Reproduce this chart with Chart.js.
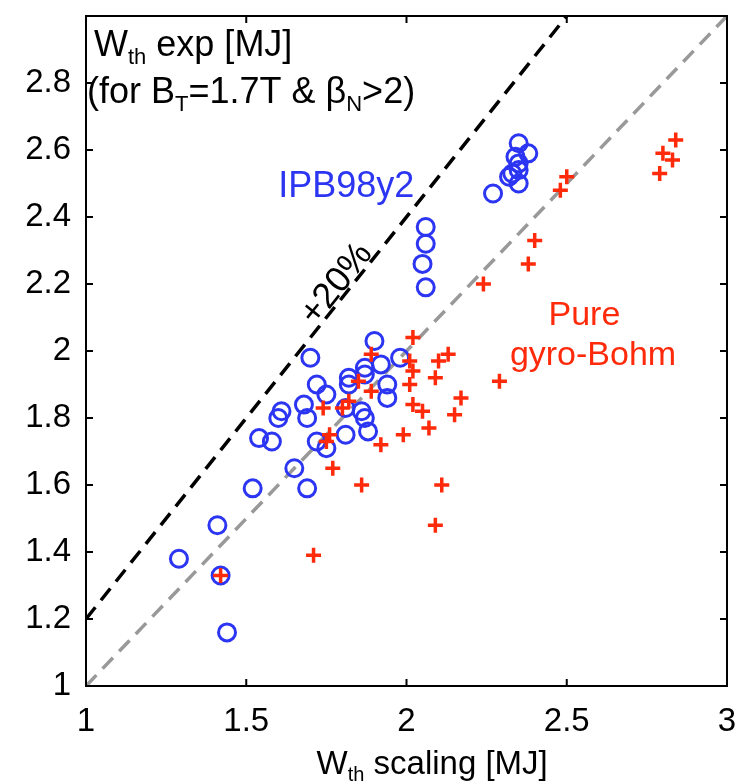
<!DOCTYPE html>
<html>
<head>
<meta charset="utf-8">
<script src="https://cdn.jsdelivr.net/npm/chart.js@4.4.1/dist/chart.umd.min.js"></script>
<style>
  body { margin: 0; background: #fff; }
  #wrap { width: 741px; height: 783px; }
</style>
</head>
<body>
<div id="wrap"><canvas id="myChart"></canvas></div>
<script>
// IPB98y2 scaling vs experiment (blue circles)
const ipbX = [1.29, 1.41, 1.42, 1.44, 1.52, 1.69, 1.65, 1.54, 1.58, 1.60, 1.61, 1.68, 1.69, 1.70, 1.72,
  1.75, 1.72, 1.75, 1.81, 1.88, 1.81, 1.86, 1.87, 1.82, 1.82, 1.87, 1.87, 1.90, 1.92, 1.94, 1.94,
  1.98, 2.06, 2.06, 2.05, 2.06, 2.27, 2.32, 2.33, 2.35, 2.35, 2.34, 2.38, 2.35, 2.35];
const ipbY = [1.38, 1.48, 1.33, 1.16, 1.59, 1.59, 1.65, 1.74, 1.73, 1.80, 1.82, 1.84, 1.80, 1.98, 1.90,
  1.87, 1.73, 1.71, 1.75, 1.76, 1.83, 1.82, 1.80, 1.90, 1.92, 1.93, 1.95, 2.03, 1.96, 1.90, 1.86,
  1.98, 2.37, 2.32, 2.26, 2.19, 2.47, 2.52, 2.53, 2.54, 2.56, 2.58, 2.59, 2.62, 2.50];

// pure gyro-Bohm scaling vs experiment (red crosses)
const gbX = [1.42, 1.71, 1.74, 1.80, 1.82, 1.76, 1.75, 1.77, 1.86, 1.85, 1.89, 1.89, 1.92, 1.99, 2.02,
  2.01, 2.02, 2.01, 2.02, 2.05, 2.07, 2.09, 2.10, 2.13, 2.11, 2.09, 2.17, 2.15, 2.29, 2.24, 2.38,
  2.40, 2.48, 2.50, 2.79, 2.80, 2.83, 2.84];
const gbY = [1.33, 1.39, 1.83, 1.83, 1.85, 1.75, 1.73, 1.65, 1.60, 1.91, 1.88, 1.99, 1.72, 1.75, 2.04,
  1.97, 1.94, 1.90, 1.84, 1.82, 1.77, 1.92, 1.97, 1.99, 1.60, 1.48, 1.86, 1.81, 1.91, 2.20, 2.26,
  2.33, 2.48, 2.52, 2.53, 2.59, 2.57, 2.63];

// reference lines
const unityX = [1, 3];
const unityY = [1, 3];
const plus20X = [1, 2.5];
const plus20Y = [1.2, 3];

const xTicks = [1, 1.5, 2, 2.5, 3];
const yTicks = [1, 1.2, 1.4, 1.6, 1.8, 2, 2.2, 2.4, 2.6, 2.8];

const BLUE = "#2b35f2";
const RED = "#ff2a0a";
const FONT = "Liberation Sans, Arial, sans-serif";
const FS = 33;
const FS_NOTE = 36;

const toPts = (xs, ys) => xs.map((x, i) => ({ x: x, y: ys[i] }));

// text with subscripts: parts = [[text, isSub], ...]
function richWidth(c, parts, size) {
  let w = 0;
  parts.forEach(([t, sub]) => {
    c.font = (sub ? Math.round(size * 0.62) : size) + "px " + FONT;
    w += c.measureText(t).width;
  });
  return w;
}
function drawRich(c, parts, x, y, size, align) {
  let w = richWidth(c, parts, size);
  let cx = align === "center" ? x - w / 2 : x;
  c.textAlign = "left";
  c.textBaseline = "alphabetic";
  parts.forEach(([t, sub]) => {
    c.font = (sub ? Math.round(size * 0.62) : size) + "px " + FONT;
    c.fillText(t, cx, sub ? y + size * 0.22 : y);
    cx += c.measureText(t).width;
  });
}

const framePlugin = {
  id: "frame",
  afterDraw(chart) {
    const c = chart.ctx;
    const a = chart.chartArea;
    const xs = chart.scales.x;
    const ys = chart.scales.y;
    c.save();
    c.strokeStyle = "#000";
    c.lineWidth = 2;
    c.strokeRect(a.left, a.top, a.right - a.left, a.bottom - a.top);
    const tl = 7;
    c.beginPath();
    xTicks.forEach((v) => {
      const px = xs.getPixelForValue(v);
      c.moveTo(px, a.bottom); c.lineTo(px, a.bottom - tl);
      c.moveTo(px, a.top); c.lineTo(px, a.top + tl);
    });
    yTicks.forEach((v) => {
      const py = ys.getPixelForValue(v);
      c.moveTo(a.left, py); c.lineTo(a.left + tl, py);
      c.moveTo(a.right, py); c.lineTo(a.right - tl, py);
    });
    c.stroke();

    // annotations
    c.fillStyle = "#000";
    drawRich(c, [["W", 0], ["th", 1], [" exp [MJ]", 0]], a.left + 8, a.top + 40, FS_NOTE, "left");
    drawRich(c, [["(for B", 0], ["T", 1], ["=1.7T & \u03b2", 0], ["N", 1], [">2)", 0]], a.left + 1, a.top + 87, FS_NOTE, "left");

    c.fillStyle = BLUE;
    drawRich(c, [["IPB98y2", 0]], xs.getPixelForValue(1.6), ys.getPixelForValue(2.5) + 13, FS_NOTE, "left");

    c.fillStyle = RED;
    drawRich(c, [["Pure", 0]], xs.getPixelForValue(2.555), ys.getPixelForValue(2.113) + 12, 34, "center");
    drawRich(c, [["gyro-Bohm", 0]], xs.getPixelForValue(2.582), ys.getPixelForValue(1.994) + 12, 34, "center");

    // +20% along the dashed line
    const x0 = xs.getPixelForValue(plus20X[0]), y0 = ys.getPixelForValue(plus20Y[0]);
    const x1 = xs.getPixelForValue(plus20X[1]), y1 = ys.getPixelForValue(plus20Y[1]);
    const ang = Math.atan2(y1 - y0, x1 - x0);
    c.save();
    c.translate(xs.getPixelForValue(1.775), ys.getPixelForValue(2.205));
    c.rotate(ang);
    c.fillStyle = "#000";
    drawRich(c, [["+20%", 0]], 0, 13, FS_NOTE, "center");
    c.restore();

    // x axis title
    c.fillStyle = "#000";
    drawRich(c, [["W", 0], ["th", 1], [" scaling [MJ]", 0]], xs.getPixelForValue(2.08), a.bottom + 88, FS, "center");
    c.restore();
  },
};

const ctx = document.getElementById("myChart");

const myChart = new Chart(ctx, {
  type: "scatter",
  data: {
    datasets: [
      {
        label: "Pure gyro-Bohm",
        data: toPts(gbX, gbY),
        pointStyle: "cross",
        pointRadius: 7.5,
        borderColor: RED,
        backgroundColor: RED,
        pointBorderWidth: 3.5,
      },
      {
        label: "IPB98y2",
        data: toPts(ipbX, ipbY),
        pointStyle: "circle",
        pointRadius: 8.5,
        borderColor: BLUE,
        backgroundColor: "rgba(0,0,0,0)",
        pointBorderWidth: 3,
      },
      {
        label: "+20%",
        type: "line",
        data: toPts(plus20X, plus20Y),
        borderColor: "#000",
        borderWidth: 3.5,
        borderDash: [15, 9],
        pointRadius: 0,
        fill: false,
      },
      {
        label: "1:1",
        type: "line",
        data: toPts(unityX, unityY),
        borderColor: "#999",
        borderWidth: 3.5,
        borderDash: [15, 9],
        pointRadius: 0,
        fill: false,
      },
    ],
  },
  options: {
    responsive: true,
    maintainAspectRatio: false,
    animation: false,
    events: [],
    layout: { padding: { top: 16, right: 14, left: 0, bottom: 0 } },
    plugins: { legend: { display: false }, tooltip: { enabled: false } },
    scales: {
      x: {
        type: "linear",
        min: 1,
        max: 3,
        afterFit: (s) => { s.height = 97; s.paddingLeft = 0; s.paddingRight = 0; },
        afterBuildTicks: (s) => { s.ticks = xTicks.map((v) => ({ value: v })); },
        grid: { display: false, drawTicks: false },
        border: { display: false },
        ticks: {
          padding: 16,
          color: "#000",
          font: { family: FONT, size: FS },
          callback: (v) => String(v),
        },
      },
      y: {
        type: "linear",
        min: 1,
        max: 3,
        afterFit: (s) => { s.width = 86; s.paddingTop = 0; s.paddingBottom = 0; },
        afterBuildTicks: (s) => { s.ticks = yTicks.map((v) => ({ value: v })); },
        grid: { display: false, drawTicks: false },
        border: { display: false },
        ticks: {
          padding: 15,
          color: "#000",
          font: { family: FONT, size: FS },
          callback: (v) => String(Number(v.toFixed(1))),
        },
      },
    },
  },
  plugins: [framePlugin],
});
</script>
</body>
</html>
